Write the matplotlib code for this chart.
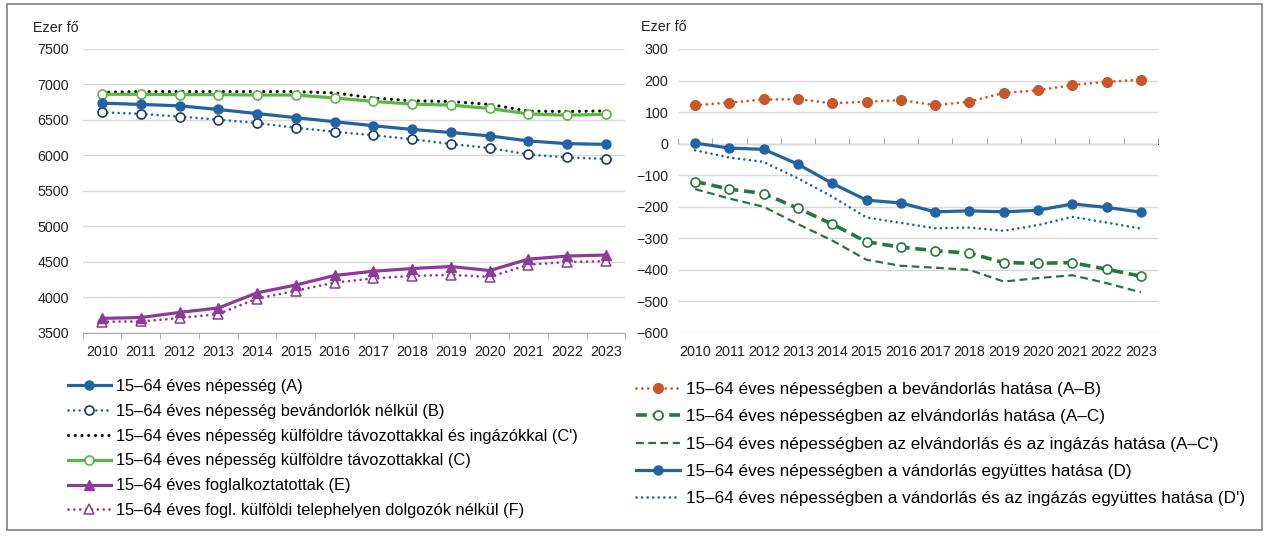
import matplotlib
matplotlib.use("Agg")
import matplotlib.pyplot as plt
from matplotlib.patches import Rectangle

plt.rcParams['font.family'] = ['Liberation Sans', 'DejaVu Sans']

# adatok
years = [str(y) for y in range(2010, 2024)]

nep_A = [6738, 6719, 6700, 6648, 6591, 6533, 6476, 6419, 6367, 6324, 6276, 6205, 6167, 6157]
nep_B = [6610, 6586, 6548, 6505, 6457, 6391, 6334, 6286, 6229, 6162, 6105, 6015, 5972, 5953]
nep_C2 = [6890, 6900, 6900, 6900, 6900, 6900, 6881, 6810, 6770, 6760, 6720, 6625, 6620, 6628]
nep_C = [6862, 6862, 6857, 6857, 6852, 6852, 6810, 6762, 6724, 6710, 6662, 6586, 6567, 6581]
fogl_E = [3706, 3718, 3790, 3852, 4066, 4176, 4310, 4370, 4408, 4436, 4380, 4540, 4584, 4598]
fogl_F = [3660, 3662, 3710, 3768, 3985, 4095, 4210, 4268, 4305, 4318, 4290, 4462, 4500, 4512]

hat_AB = [122, 130, 140, 141, 128, 133, 138, 122, 133, 161, 169, 186, 196, 203]
hat_AC = [-120, -144, -158, -205, -255, -311, -328, -339, -347, -377, -379, -377, -398, -420]
hat_AC2 = [-144, -174, -200, -255, -307, -368, -387, -393, -400, -437, -426, -417, -442, -471]
hat_D = [2, -14, -18, -65, -126, -179, -188, -216, -213, -216, -211, -191, -202, -217]
hat_D2 = [-21, -44, -58, -110, -168, -234, -251, -268, -266, -276, -258, -232, -250, -269]

left_labels = ['15–64 éves népesség (A)',
               '15–64 éves népesség bevándorlók nélkül (B)',
               "15–64 éves népesség külföldre távozottakkal és ingázókkal (C')",
               '15–64 éves népesség külföldre távozottakkal (C)',
               '15–64 éves foglalkoztatottak (E)',
               '15–64 éves fogl. külföldi telephelyen dolgozók nélkül (F)']
right_labels = ['15–64 éves népességben a bevándorlás hatása (A–B)',
                '15–64 éves népességben az elvándorlás hatása (A–C)',
                "15–64 éves népességben az elvándorlás és az ingázás hatása (A–C')",
                '15–64 éves népességben a vándorlás együttes hatása (D)',
                "15–64 éves népességben a vándorlás és az ingázás együttes hatása (D')"]

kek = '#2263A4'
kek_sotet = '#1F3A68'
zold = '#5CB645'
zold_sotet = '#23793A'
lila = '#8E3A98'
narancs = '#C8582A'
racs = '#D9D9D9'
tengely = '#A6A6A6'

x = list(range(len(years)))
minor = [i - 0.5 for i in range(len(years) + 1)]

fig = plt.figure(figsize=(12.69, 5.37), dpi=100)
fig.patches.append(Rectangle((7 / 1269, 1 - 530 / 537), 1255 / 1269, 526 / 537,
                             transform=fig.transFigure, fill=False,
                             edgecolor='#808080', linewidth=1.2))

ax1 = fig.add_axes([82.6 / 1269, 1 - 333 / 537, 542.8 / 1269, 284 / 537])
ax2 = fig.add_axes([678 / 1269, 1 - 333 / 537, 480 / 1269, 284 / 537])

dot = (0, (0.01, 2.1))

# bal oldali ábra
l1 = ax1.plot(x, nep_A, color=kek, lw=2.3, marker='o', ms=6.5, zorder=5)[0]
l2 = ax1.plot(x, nep_B, color=kek, lw=1.9, ls=dot, dash_capstyle='round',
              marker='o', ms=6.5, mfc='white', mec=kek_sotet, mew=1.2, zorder=4)[0]
l3 = ax1.plot(x, nep_C2, color='#111111', lw=2.3, ls=dot, dash_capstyle='round', zorder=3)[0]
l4 = ax1.plot(x, nep_C, color=zold, lw=2.3, marker='o', ms=6.5, mfc='white',
              mec=zold, mew=1.2, zorder=4)[0]
l5 = ax1.plot(x, fogl_E, color=lila, lw=2.3, marker='^', ms=7, zorder=5)[0]
l6 = ax1.plot(x, fogl_F, color=lila, lw=2.0, ls=dot, dash_capstyle='round',
              marker='^', ms=7, mfc='white', mec=lila, mew=1.1, zorder=4)[0]

ax1.set_xlim(-0.5, len(years) - 0.5)
ax1.set_ylim(3500, 7500)
ax1.set_yticks(range(3500, 7501, 500))
ax1.set_xticks(x)
ax1.set_xticklabels(years)
ax1.set_xticks(minor, minor=True)
ax1.grid(axis='y', color=racs, lw=1)
ax1.set_axisbelow(True)
for s in ['top', 'right', 'left']:
    ax1.spines[s].set_visible(False)
ax1.spines['bottom'].set_color(tengely)
ax1.tick_params(axis='y', length=0, pad=10, labelsize=10.3, colors='#222222')
ax1.tick_params(axis='x', which='major', length=0, pad=9, labelsize=10.3, colors='#222222')
ax1.tick_params(axis='x', which='minor', length=4, color=tengely)
fig.text(33 / 1269, 1 - 28 / 537, 'Ezer fő', fontsize=10.3, va='center', color='#222222')

# jobb oldali ábra
r1 = ax2.plot(x, hat_AB, color=narancs, lw=2.0, ls=dot, dash_capstyle='round',
              marker='o', ms=7, zorder=5)[0]
r2 = ax2.plot(x, hat_AC, color=zold_sotet, lw=2.6, ls=(0, (3, 1.6)),
              marker='o', ms=6.5, mfc='white', mec=zold_sotet, mew=1.2, zorder=4)[0]
r3 = ax2.plot(x, hat_AC2, color=zold_sotet, lw=1.6, ls=(0, (3.5, 2)), zorder=3)[0]
r4 = ax2.plot(x, hat_D, color=kek, lw=2.3, marker='o', ms=6.5, zorder=5)[0]
r5 = ax2.plot(x, hat_D2, color=kek, lw=1.9, ls=dot, dash_capstyle='round', zorder=3)[0]

ax2.set_xlim(-0.5, len(years) - 0.5)
ax2.set_ylim(-600, 300)
ax2.set_yticks(range(-600, 301, 100))
ax2.set_xticks(x)
ax2.set_xticklabels(years)
ax2.grid(axis='y', color=racs, lw=1)
ax2.set_axisbelow(True)
for s in ['top', 'right', 'left', 'bottom']:
    ax2.spines[s].set_visible(False)
ax2.tick_params(axis='y', length=0, pad=7, labelsize=10.3, colors='#222222')
ax2.tick_params(axis='x', length=0, pad=9, labelsize=10.3, colors='#222222')
nulla = ax2.secondary_xaxis(600 / 900)
nulla.set_xticks(minor)
nulla.set_xticklabels([])
nulla.spines['bottom'].set_color(tengely)
nulla.tick_params(axis='x', length=4, color=tengely)
fig.text(641 / 1269, 1 - 27 / 537, 'Ezer fő', fontsize=10.3, va='center', color='#222222')

# jelmagyarázat
leg_kw = dict(loc='upper left', frameon=False, handlelength=2.6,
              handletextpad=0.3, borderaxespad=0, borderpad=0, numpoints=1)
fig.legend([l1, l2, l3, l4, l5, l6], left_labels, fontsize=11.8,
           bbox_to_anchor=(68 / 1269, 1 - 379 / 537), labelspacing=0.6, **leg_kw)
fig.legend([r1, r2, r3, r4, r5], right_labels, fontsize=12.3,
           bbox_to_anchor=(636 / 1269, 1 - 382 / 537), labelspacing=0.72, **leg_kw)

fig.savefig('out.png', dpi=100)
